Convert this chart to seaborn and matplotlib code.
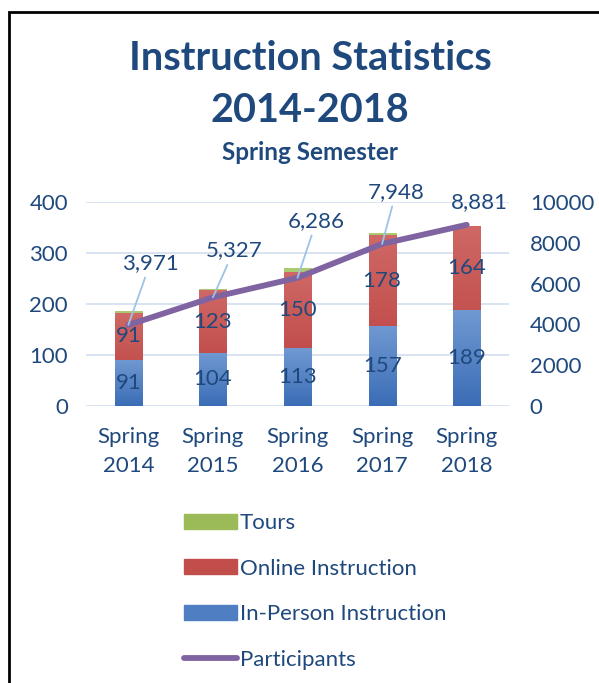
import numpy as np
import pandas as pd
import matplotlib
matplotlib.use('Agg')
import matplotlib.pyplot as plt
import seaborn as sns
from matplotlib.colors import LinearSegmentedColormap
from matplotlib.patches import Patch, Rectangle
from matplotlib.lines import Line2D

sns.set_style('white')
plt.rcParams['font.family'] = ['Lato', 'DejaVu Sans']
plt.rcParams['ytick.major.size'] = 0
plt.rcParams['xtick.major.size'] = 0
plt.rcParams['ytick.major.pad'] = 13
plt.rcParams['xtick.major.pad'] = 15

semesters = ['Spring\n2014', 'Spring\n2015', 'Spring\n2016', 'Spring\n2017', 'Spring\n2018']
in_person = [91, 104, 113, 157, 189]
online = [91, 123, 150, 178, 164]
tours = [4, 2, 7, 4, 0]
participants = [3971, 5327, 6286, 7948, 8881]

# label offsets for participant values (pixels), and whether a leader line is drawn
label_offsets = [(22, 62), (21, 47), (19, 57), (14, 52), (13, 23)]
leader = [True, True, True, True, False]

TEXT = '#1F497D'
BLUE = '#4F7FC2'
RED = '#C24E4B'
GREEN = '#9BBB59'
PURPLE = '#8064A2'
GRID = '#D6E0F0'
FS = 16
# (top, bottom) shades used for the bar gradients
shades = [('#AACB72', '#8DB04A'), ('#CF6866', '#B73A38'), ('#7099D2', '#3B6DB6')]

df = pd.DataFrame({'semester': semesters, 'in_person': in_person,
                   'online': online, 'tours': tours, 'participants': participants})
df['io'] = df['in_person'] + df['online']
df['total'] = df['io'] + df['tours']

fig = plt.figure(figsize=(5.99, 6.83), dpi=100)
ax = fig.add_axes([86 / 599, 1 - 406 / 683, 423 / 599, 204 / 683])

# stacked bars drawn as overlapping cumulative totals
bar_kw = dict(width=0.32, saturation=1, linewidth=0, edgecolor='none', ax=ax)
sns.barplot(data=df, x='semester', y='total', color=GREEN, **bar_kw)
sns.barplot(data=df, x='semester', y='io', color=RED, **bar_kw)
sns.barplot(data=df, x='semester', y='in_person', color=BLUE, **bar_kw)

# vertical gradient fill clipped to each bar
grad = np.linspace(0, 1, 64).reshape(-1, 1)
n = len(semesters)
for k, p in enumerate(list(ax.patches)):
    top, bottom = shades[k // n]
    cmap = LinearSegmentedColormap.from_list('g', [top, bottom])
    x0, y0 = p.get_x(), p.get_y()
    w, h = p.get_width(), p.get_height()
    if h <= 0:
        continue
    im = ax.imshow(grad, cmap=cmap, aspect='auto', extent=(x0, x0 + w, y0, y0 + h),
                   origin='upper', zorder=1.1 + 0.1 * (k // n), interpolation='bilinear')
    im.set_clip_path(p)

for i, row in df.iterrows():
    ax.text(i, row['in_person'] / 2, str(row['in_person']), ha='center', va='center',
            fontsize=FS, color=TEXT, zorder=5)
    ax.text(i, row['in_person'] + row['online'] / 2, str(row['online']), ha='center',
            va='center', fontsize=FS, color=TEXT, zorder=5)

ax.set_ylim(0, 400)
ax.set_xlim(-0.5, 4.5)
ax.set_yticks(range(0, 401, 100))
ax.yaxis.grid(True, color=GRID, linewidth=1.3)
ax.set_axisbelow(True)
ax.set_xlabel('')
ax.set_ylabel('')
ax.tick_params(axis='both', labelsize=FS, labelcolor=TEXT)
for t in ax.get_xticklabels():
    t.set_linespacing(1.6)
sns.despine(ax=ax, left=True, bottom=True)

ax2 = ax.twinx()
sns.lineplot(x=np.arange(len(participants)), y=participants, color=PURPLE,
             linewidth=4.2, solid_capstyle='round', ax=ax2)
ax2.set_ylim(0, 10000)
ax2.set_yticks(range(0, 10001, 2000))
ax2.tick_params(axis='y', labelsize=FS, labelcolor=TEXT, pad=15)
for s in ax2.spines.values():
    s.set_visible(False)

for i, (v, (dx, dy), ld) in enumerate(zip(participants, label_offsets, leader)):
    props = dict(arrowstyle='-', color='#9DC3E6', lw=1.3, shrinkA=1, shrinkB=0) if ld else None
    ax2.annotate(f'{v:,}', xy=(i, v), xytext=(dx, dy), textcoords='offset pixels',
                 ha='center', va='center', fontsize=FS, color=TEXT, arrowprops=props)

fig.text(0.518, 1 - 59 / 683, 'Instruction Statistics', ha='center', va='center',
         fontsize=28.5, fontweight='bold', color=TEXT)
fig.text(0.518, 1 - 111 / 683, '2014-2018', ha='center', va='center',
         fontsize=28.5, fontweight='bold', color=TEXT)
fig.text(0.518, 1 - 153 / 683, 'Spring Semester', ha='center', va='center',
         fontsize=17.5, fontweight='bold', color=TEXT)

handles = [Patch(color=GREEN, label='Tours'),
           Patch(color=RED, label='Online Instruction'),
           Patch(color=BLUE, label='In-Person Instruction'),
           Line2D([0], [0], color=PURPLE, linewidth=4.2, solid_capstyle='round',
                  label='Participants')]
leg = fig.legend(handles=handles, loc='upper left', bbox_to_anchor=(0.273, 1 - 493 / 683),
                 frameon=False, fontsize=FS, handlelength=2.4, handleheight=0.65,
                 handletextpad=0.12, labelspacing=1.15)
for t in leg.get_texts():
    t.set_color(TEXT)

# outer frame (extends past right and bottom edge)
fig.patches.append(Rectangle((9 / 599, -0.1), 1.2, 1.1 - 12 / 683, transform=fig.transFigure,
                             fill=False, edgecolor='black', linewidth=2))

fig.savefig('out.png', dpi=100)
